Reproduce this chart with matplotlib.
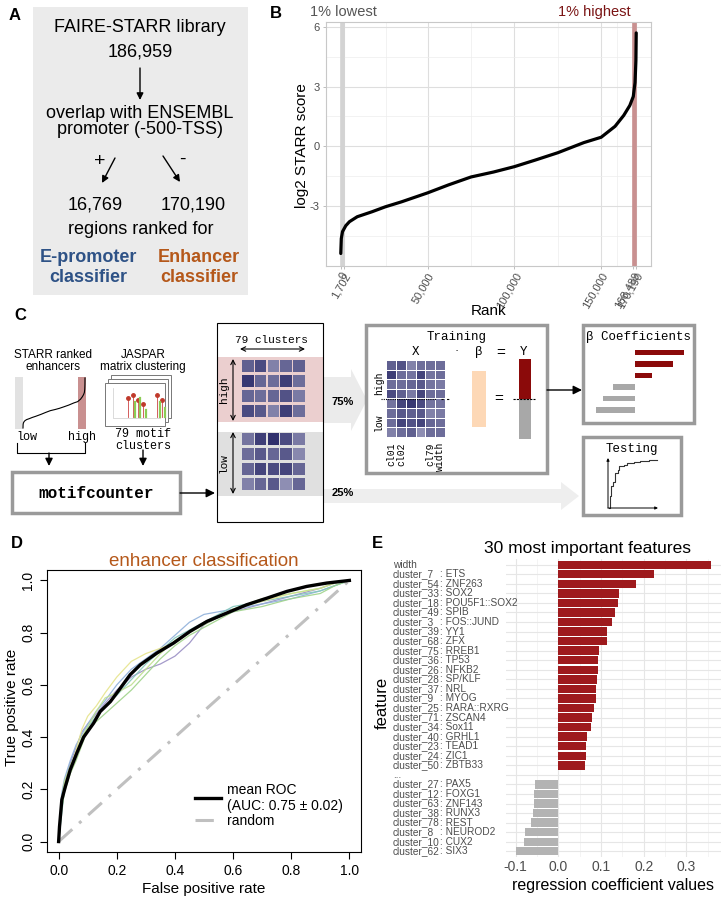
import numpy as np
import matplotlib.pyplot as plt
from matplotlib.patches import Rectangle, FancyArrow
from matplotlib.colors import LinearSegmentedColormap
from matplotlib.lines import Line2D

W, H = 728, 897
plt.rcParams['font.family'] = ['Liberation Sans', 'DejaVu Sans']
plt.rcParams['axes.unicode_minus'] = False
MONO = 'Liberation Mono'
NARROW = ['Liberation Sans Narrow', 'Liberation Sans']
ORANGE = '#b5581a'
BLUE = '#2e5286'
DARKRED = '#9e1a1d'
TXTGREY = '#4d4d4d'

# ---- panel B: ranked STARR scores
rank_pts = [0, 300, 1000, 2900, 5000, 9500, 18000, 25700, 35000, 50000, 62000,
            75000, 88000, 100000, 112000, 125000, 140000, 150000, 158000, 163000,
            166500, 168489, 169500, 170000, 170190]
score_pts = [-5.4, -4.65, -4.3, -4.0, -3.8, -3.55, -3.3, -3.05, -2.8, -2.35, -1.95,
             -1.55, -1.3, -1.03, -0.7, -0.33, 0.18, 0.45, 1.0, 1.55,
             2.05, 2.5, 3.2, 4.3, 5.7]
rank_breaks = [0, 1702, 50000, 100000, 150000, 168489, 170190]

# ---- panel D: ROC curves
mean_fpr = [0, 0.003, 0.011, 0.023, 0.04, 0.063, 0.086, 0.12, 0.143, 0.178, 0.212,
            0.246, 0.281, 0.338, 0.395, 0.452, 0.51, 0.578, 0.647, 0.716, 0.785,
            0.853, 0.922, 1.0]
mean_tpr = [0, 0.057, 0.16, 0.21, 0.275, 0.34, 0.40, 0.453, 0.498, 0.536, 0.587,
            0.639, 0.677, 0.722, 0.76, 0.805, 0.843, 0.875, 0.907, 0.932, 0.958,
            0.977, 0.99, 1.0]
fold_fpr = [0, 0.01, 0.02, 0.04, 0.06, 0.08, 0.1, 0.13, 0.16, 0.2, 0.25, 0.3, 0.35,
            0.4, 0.45, 0.5, 0.55, 0.6, 0.7, 0.8, 0.9, 0.95, 1.0]
fold_tpr = [
    [0, 0.15, 0.22, 0.30, 0.36, 0.42, 0.45, 0.49, 0.53, 0.58, 0.63, 0.66, 0.68, 0.71, 0.76, 0.83, 0.86, 0.88, 0.91, 0.94, 0.97, 0.99, 1.0],
    [0, 0.18, 0.24, 0.31, 0.37, 0.41, 0.45, 0.50, 0.54, 0.60, 0.66, 0.70, 0.74, 0.79, 0.84, 0.87, 0.88, 0.89, 0.91, 0.93, 0.96, 0.98, 1.0],
    [0, 0.10, 0.20, 0.27, 0.33, 0.39, 0.44, 0.48, 0.52, 0.56, 0.62, 0.68, 0.73, 0.78, 0.81, 0.84, 0.87, 0.90, 0.92, 0.94, 0.96, 0.98, 1.0],
    [0, 0.12, 0.19, 0.26, 0.31, 0.37, 0.43, 0.46, 0.49, 0.53, 0.58, 0.64, 0.70, 0.75, 0.79, 0.82, 0.85, 0.88, 0.90, 0.93, 0.95, 0.98, 1.0],
    [0, 0.14, 0.21, 0.28, 0.35, 0.43, 0.48, 0.52, 0.57, 0.63, 0.69, 0.72, 0.74, 0.76, 0.80, 0.84, 0.86, 0.89, 0.92, 0.95, 0.97, 0.99, 1.0],
    [0, 0.16, 0.23, 0.29, 0.34, 0.40, 0.44, 0.50, 0.55, 0.57, 0.60, 0.66, 0.72, 0.77, 0.80, 0.83, 0.86, 0.89, 0.93, 0.95, 0.97, 0.99, 1.0],
]
fold_colors = ['#9a8fc4', '#8fb0da', '#82c6bb', '#9fd38a', '#e6e48c', '#bfe08f']

# ---- panel E: regression coefficients
feat_ids = ['width', 'cluster_7', 'cluster_54', 'cluster_33', 'cluster_18', 'cluster_49',
            'cluster_3', 'cluster_39', 'cluster_68', 'cluster_75', 'cluster_36',
            'cluster_26', 'cluster_28', 'cluster_37', 'cluster_9', 'cluster_25',
            'cluster_71', 'cluster_34', 'cluster_40', 'cluster_23', 'cluster_24',
            'cluster_50', '...', 'cluster_27', 'cluster_12', 'cluster_63', 'cluster_38',
            'cluster_78', 'cluster_8', 'cluster_10', 'cluster_62']
feat_names = ['', 'ETS', 'ZNF263', 'SOX2', 'POU5F1::SOX2', 'SPIB', 'FOS::JUND', 'YY1',
              'ZFX', 'RREB1', 'TP53', 'NFKB2', 'SP/KLF', 'NRL', 'MYOG', 'RARA::RXRG',
              'ZSCAN4', 'Sox11', 'GRHL1', 'TEAD1', 'ZIC1', 'ZBTB33', '', 'PAX5', 'FOXG1',
              'ZNF143', 'RUNX3', 'REST', 'NEUROD2', 'CUX2', 'SIX3']
coef = [0.358, 0.2235, 0.182, 0.141, 0.139, 0.132, 0.125, 0.114, 0.113, 0.095, 0.093,
        0.092, 0.090, 0.089, 0.088, 0.084, 0.079, 0.076, 0.067, 0.065, 0.064, 0.062,
        np.nan, -0.054, -0.056, -0.057, -0.059, -0.0635, -0.079, -0.081, -0.0996]

# ---- panel C schematic values
high_mat = [[0.6, 0.75, 0.35, 0.55, 0.6], [0.9, 0.55, 0.5, 0.85, 0.5],
            [0.55, 0.5, 0.55, 0.7, 0.4], [0.75, 0.65, 0.35, 0.85, 0.5]]
low_mat = [[0.45, 0.85, 0.95, 0.75, 0.4], [0.5, 0.65, 0.55, 0.65, 0.3],
           [0.55, 0.8, 0.75, 0.8, 0.55], [0.35, 0.55, 0.65, 0.25, 0.55]]
train_mat = [[0.6, 0.7, 0.35, 0.5, 0.5, 0.5], [0.85, 0.5, 0.45, 0.8, 0.45, 0.5],
             [0.5, 0.5, 0.55, 0.65, 0.45, 0.4], [0.75, 0.6, 0.4, 0.8, 0.5, 0.5],
             [0.45, 0.8, 0.9, 0.75, 0.45, 0.45], [0.5, 0.65, 0.6, 0.65, 0.35, 0.4],
             [0.5, 0.8, 0.7, 0.8, 0.55, 0.5], [0.35, 0.5, 0.6, 0.25, 0.5, 0.5]]
beta_pos = [49, 38, 17]
beta_neg = [22, 32, 39]
mini_roc_x = [0.02, 0.04, 0.07, 0.11, 0.14, 0.2, 0.22, 0.32, 0.39, 0.53, 0.66, 0.8, 0.83, 0.99]
mini_roc_y = [0.0, 0.24, 0.44, 0.54, 0.71, 0.78, 0.85, 0.87, 0.92, 0.93, 0.95, 0.96, 0.97, 0.97]

fig = plt.figure(figsize=(W / 100, H / 100), dpi=100)


def px_axes(x0, y0, x1, y1):
    return fig.add_axes([x0 / W, 1 - y1 / H, (x1 - x0) / W, (y1 - y0) / H])


# overlay in pixel coordinates for the schematic parts
ov = px_axes(0, 0, W, H)
ov.set_xlim(0, W)
ov.set_ylim(H, 0)
ov.axis('off')


def arrow(x0, y0, x1, y1, style='-|>', lw=1.0, ms=10):
    ov.annotate('', xy=(x1, y1), xytext=(x0, y0),
                arrowprops=dict(arrowstyle=style, color='black', lw=lw,
                                mutation_scale=ms, shrinkA=0, shrinkB=0))


def label(x, y, s):
    ov.text(x, y, s, fontsize=12, fontweight='bold', ha='center', va='center')


# ================= A
label(15, 15, 'A')
ov.add_patch(Rectangle((33, 7), 215, 288, fc='#ebebeb', ec='none'))
fsA = 13
ov.text(140, 27, 'FAIRE-STARR library', fontsize=fsA, ha='center', va='center')
ov.text(140, 52, '186,959', fontsize=fsA, ha='center', va='center')
arrow(140, 68, 140, 100)
ov.text(140, 113, 'overlap with ENSEMBL', fontsize=fsA, ha='center', va='center')
ov.text(140, 129, 'promoter (-500-TSS)', fontsize=fsA, ha='center', va='center')
ov.text(100, 161, '+', fontsize=14, ha='center', va='center')
ov.text(182, 159, '-', fontsize=14, ha='center', va='center')
arrow(115, 158, 102, 183)
arrow(163, 156, 180, 182)
ov.text(95, 205, '16,769', fontsize=fsA, ha='center', va='center')
ov.text(193, 205, '170,190', fontsize=fsA, ha='center', va='center')
ov.text(141, 230, 'regions ranked for', fontsize=fsA, ha='center', va='center')
ov.text(88, 257, 'E-promoter', fontsize=fsA, fontweight='bold', color=BLUE, ha='center', va='center')
ov.text(88, 277, 'classifier', fontsize=fsA, fontweight='bold', color=BLUE, ha='center', va='center')
ov.text(199, 257, 'Enhancer', fontsize=fsA, fontweight='bold', color=ORANGE, ha='center', va='center')
ov.text(199, 277, 'classifier', fontsize=fsA, fontweight='bold', color=ORANGE, ha='center', va='center')

# ================= B
label(276, 14, 'B')
axB = px_axes(326, 22, 651, 266)
xmin, xmax = 0, rank_breaks[-1]
pad = 0.05 * (xmax - xmin)
axB.set_xlim(xmin - pad, xmax + pad)
axB.set_ylim(-6.03, 6.25)
axB.axvspan(0, 1702, fc='#d3d3d3', ec='#d3d3d3', lw=1.2, zorder=1)
axB.axvspan(168489, 170190, fc='#c99090', ec='#c99090', lw=1.2, zorder=1)
axB.plot(rank_pts, score_pts, color='black', lw=2.3, zorder=3, solid_capstyle='round')
axB.set_xticks(rank_breaks)
axB.set_xticklabels([f'{b:,}' for b in rank_breaks], rotation=60, ha='right',
                    rotation_mode='anchor', fontsize=8, color=TXTGREY)
minor_x = [(a + b) / 2 for a, b in zip(rank_breaks[:-1], rank_breaks[1:])]
axB.set_xticks(minor_x, minor=True)
axB.set_yticks([-3, 0, 3, 6])
axB.set_yticks([-4.5, -1.5, 1.5, 4.5], minor=True)
axB.tick_params(axis='y', labelsize=8, labelcolor=TXTGREY, pad=2)
axB.tick_params(axis='x', pad=1)
axB.tick_params(which='both', color='#b3b3b3', length=2.5, width=0.6)
axB.tick_params(which='minor', length=0)
axB.grid(which='major', color='#dedede', lw=0.8)
axB.grid(which='minor', color='#ededed', lw=0.5)
axB.set_axisbelow(True)
for s in axB.spines.values():
    s.set_color('#c8c8c8')
    s.set_linewidth(0.8)
ov.text(302, 146, 'log2 STARR score', fontsize=11, rotation=90, ha='center', va='center')
ov.text(489, 311, 'Rank', fontsize=11, ha='center', va='center')
ov.text(343, 12, '1% lowest', fontsize=10.5, color='#555555', ha='center', va='center')
ov.text(594, 12, '1% highest', fontsize=10.5, color='#7a1414', ha='center', va='center')
ov.text(485, 43, 'ranked putative enhancers', fontsize=13.5, color=ORANGE, ha='center', va='center')

# ================= C
label(20, 316, 'C')
ov.text(53, 361, 'STARR ranked\nenhancers', fontsize=8.5, ha='center', va='center', linespacing=1.0)
ov.add_patch(Rectangle((15, 377), 8, 52, fc='#e2e2e2', ec='none'))
ov.add_patch(Rectangle((78, 377), 8, 52, fc='#c99090', ec='none'))
r = np.array(rank_pts, dtype=float)
s = np.array(score_pts)
ov.plot(23 + r / r.max() * (85 - 23), 428 - (s - s.min()) / (s.max() - s.min()) * (428 - 378),
        color='black', lw=0.8)
ov.text(27, 437, 'low', fontsize=8.5, family=MONO, ha='center', va='center')
ov.text(82, 437, 'high', fontsize=8.5, family=MONO, ha='center', va='center')
ov.plot([17, 17, 85, 85], [443, 453, 453, 443], color='black', lw=0.8)
arrow(49, 453, 49, 466, ms=11)

ov.text(143, 361, 'JASPAR\nmatrix clustering', fontsize=8.5, ha='center', va='center', linespacing=1.0)
for dx, dy in [(6, -8), (3, -4), (0, 0)]:
    ov.add_patch(Rectangle((105 + dx, 383 + dy), 60, 43, fc='white', ec='#777777', lw=0.7))
ov.plot([113, 113, 160], [388, 418, 418], color='#cccccc', lw=0.5)
for lx, ly in zip([128, 133, 138, 143, 157, 162], [398, 395, 400, 404, 395, 400]):
    ov.plot([lx, lx], [ly, 417], color='#cc4444', lw=0.6)
    ov.plot(lx, ly, 'o', color='#c0392b', ms=2.5)
for lx, ly in zip([135, 140, 146, 160, 165], [402, 398, 410, 402, 408]):
    ov.plot([lx, lx], [ly, 417], color='#8ccc55', lw=1.6)
ov.text(143, 440, '79 motif\nclusters', fontsize=8.5, family=MONO, ha='center', va='center', linespacing=1.0)
arrow(143, 450, 143, 466, ms=11)

ov.add_patch(Rectangle((12, 472), 168, 41, fc='white', ec='#9a9a9a', lw=2.5))
ov.text(96, 493, 'motifcounter', fontsize=11.5, family=MONO, fontweight='bold', ha='center', va='center')
arrow(180, 493, 215, 493, ms=13)

# fat grey arrows
ov.add_patch(FancyArrow(323, 400, 28, 0, width=46, head_width=62, head_length=16,
                        fc='#ebebeb', ec='none', length_includes_head=False))
ov.add_patch(FancyArrow(323, 496, 238, 0, width=14, head_width=28, head_length=18,
                        fc='#eeeeee', ec='none'))
ov.text(343, 402, '75%', fontsize=8, fontweight='bold', ha='center', va='center')
ov.text(343, 493, '25%', fontsize=8, fontweight='bold', ha='center', va='center')

# matrix box
cmap = LinearSegmentedColormap.from_list('mat', ['#b0b0cc', '#2a2a68'])
ov.add_patch(Rectangle((217, 357), 106, 65, fc='#ebcfcf', ec='none'))
ov.add_patch(Rectangle((217, 432), 106, 64, fc='#e0e0e0', ec='none'))
ov.add_patch(Rectangle((217, 323), 106, 199, fc='none', ec='black', lw=0.8))
for mat, ytop in [(high_mat, 360), (low_mat, 433)]:
    for i, row in enumerate(mat):
        for j, v in enumerate(row):
            ov.add_patch(Rectangle((242 + j * 12.8, ytop + i * 15), 11.5, 12.3,
                                   fc=cmap(v), ec='none'))
ov.text(271, 340, '79 clusters', fontsize=8, family=MONO, ha='center', va='center')
arrow(240, 349, 305, 349, style='<->', lw=0.8, ms=8)
arrow(233, 359, 233, 421, style='<->', lw=0.8, ms=8)
arrow(233, 432, 233, 494, style='<->', lw=0.8, ms=8)
ov.text(224, 390, 'high', fontsize=8, family=MONO, rotation=90, ha='center', va='center')
ov.text(224, 463, 'low', fontsize=8, family=MONO, rotation=90, ha='center', va='center')

# training box
ov.add_patch(Rectangle((366, 325), 181, 148, fc='white', ec='#9a9a9a', lw=2.5))
ov.text(457, 337, 'Training', fontsize=9, family=MONO, ha='center', va='center')
ov.text(416, 352, 'X', fontsize=9, family=MONO, ha='center', va='center')
ov.text(457, 351, '·', fontsize=9, ha='center', va='center')
ov.text(479, 352, 'β', fontsize=9, family=MONO, ha='center', va='center')
ov.text(501, 353, '=', fontsize=11, ha='center', va='center')
ov.text(524, 352, 'Y', fontsize=9, family=MONO, ha='center', va='center')
for i, row in enumerate(train_mat):
    for j, v in enumerate(row):
        ov.add_patch(Rectangle((387 + j * 9.85, 361 + i * 9.6), 8.9, 8.7, fc=cmap(v), ec='none'))
ov.plot([381, 436], [399, 399], color='black', lw=0.8, ls=(0, (1, 1)))
ov.plot([441, 452], [399, 399], color='black', lw=0.8, ls=(0, (2, 3)))
ov.text(379, 383, 'high', fontsize=7, family=MONO, rotation=90, ha='center', va='center')
ov.text(379, 422, 'low', fontsize=7, family=MONO, rotation=90, ha='center', va='center')
for tx, tl in zip([391, 401, 430, 440], ['cl01', 'cl02', 'cl79', 'width']):
    ov.text(tx, 442, tl, fontsize=7, family=MONO, rotation=90, ha='center', va='top')
ov.add_patch(Rectangle((472, 371), 14, 56, fc='#fdd8b6', ec='none'))
ov.text(499, 399, '=', fontsize=11, ha='center', va='center')
ov.add_patch(Rectangle((519, 359), 12, 40, fc='#8b0a0a', ec='none'))
ov.add_patch(Rectangle((519, 399), 12, 40, fc='#a8a8a8', ec='none'))
ov.plot([513, 535], [399, 399], color='black', lw=0.8, ls=(0, (2, 1)))
arrow(547, 390, 582, 390, ms=13)

# beta box
ov.add_patch(Rectangle((583, 325), 111, 98, fc='white', ec='#9a9a9a', lw=2.5))
ov.text(638, 337, 'β Coefficients', fontsize=9, family=MONO, ha='center', va='center')
for k, w in enumerate(beta_pos):
    ov.add_patch(Rectangle((635, 350 + k * 11.5), w, 5.5, fc='#8b0a0a', ec='none'))
for k, w in enumerate(beta_neg):
    ov.add_patch(Rectangle((635 - w, 384.5 + k * 11.5), w, 5.5, fc='#a8a8a8', ec='none'))

# testing box
ov.add_patch(Rectangle((583, 437), 98, 78, fc='white', ec='#9a9a9a', lw=2.5))
ov.text(632, 449, 'Testing', fontsize=9, family=MONO, ha='center', va='center')
arrow(608, 508, 608, 458, style='-|>', lw=0.7, ms=4)
arrow(608, 508, 658, 508, style='-|>', lw=0.7, ms=4)
mx = 608 + np.array(mini_roc_x) * 49
my = 508 - np.array(mini_roc_y) * 49
ov.plot(mx, my, color='#333333', lw=0.8, drawstyle='steps-post')

# ================= D
label(17, 543, 'D')
axD = px_axes(47, 570, 361, 852)
for t, c in zip(fold_tpr, fold_colors):
    axD.plot(fold_fpr, t, color=c, lw=0.9, alpha=0.9)
axD.plot([0, 1], [0, 1], color='#c0c0c0', lw=2.2, ls=(0, (6, 3, 1, 3)))
axD.plot(mean_fpr, mean_tpr, color='black', lw=2.4)
axD.set_xlim(-0.04, 1.04)
axD.set_ylim(-0.04, 1.04)
ticks = [0, 0.2, 0.4, 0.6, 0.8, 1.0]
axD.set_xticks(ticks)
axD.set_xticklabels([f'{t:.1f}' for t in ticks])
axD.set_yticks(ticks)
axD.set_yticklabels([f'{t:.1f}' for t in ticks], rotation=90, va='center')
axD.tick_params(direction='out', length=5, width=0.8, labelsize=10)
for sp in axD.spines.values():
    sp.set_linewidth(0.8)
axD.set_xlabel('False positive rate', fontsize=11, labelpad=3)
ov.text(12, 707, 'True positive rate', fontsize=11, rotation=90, ha='center', va='center')
h = [Line2D([], [], color='black', lw=2.4), Line2D([], [], color='#c0c0c0', lw=2.2, ls=(0, (6, 3, 1, 3)))]
axD.legend(h, ['mean ROC\n(AUC: 0.75 ± 0.02)', 'random'], loc='lower right',
           bbox_to_anchor=(0.96, 0.065), frameon=False, fontsize=10, handlelength=1.9,
           labelspacing=0.1, borderaxespad=0, handletextpad=0.4)
axD.set_title('enhancer classification', fontsize=13.5, color=ORANGE, pad=3)

# ================= E
label(377, 543, 'E')
axE = px_axes(506, 559, 721, 857)
n = len(coef)
ypos = np.arange(n)[::-1]
vals = np.array(coef, dtype=float)
cols = [DARKRED if v > 0 else '#b3b3b3' for v in np.nan_to_num(vals)]
axE.barh(ypos, np.nan_to_num(vals), height=0.88, color=cols, zorder=2)
lo, hi = np.nanmin(vals), np.nanmax(vals)
pad = 0.05 * (hi - lo)
axE.set_xlim(lo - pad, hi + pad)
axE.set_ylim(-0.6, n - 0.4)
axE.set_xticks([-0.1, 0, 0.1, 0.2, 0.3])
axE.set_xticklabels(['-0.1', '0.0', '0.1', '0.2', '0.3'])
axE.set_xticks([-0.05, 0.05, 0.15, 0.25, 0.35], minor=True)
axE.set_yticks(ypos)
axE.set_yticklabels([])
axE.tick_params(which='both', length=0)
axE.tick_params(axis='x', labelsize=10, labelcolor=TXTGREY, pad=2)
axE.grid(which='major', color='#e6e6e6', lw=0.8)
axE.grid(which='minor', axis='x', color='#f0f0f0', lw=0.5)
axE.set_axisbelow(True)
for sp in axE.spines.values():
    sp.set_visible(False)
axE.set_xlabel('regression coefficient values', fontsize=11.5, labelpad=3)
tr = axE.get_yaxis_transform()
x_id = (393 - 506) / (721 - 506)
x_nm = (440 - 506) / (721 - 506)
for yp, fid, nm in zip(ypos, feat_ids, feat_names):
    axE.text(x_id, yp, fid, transform=tr, fontsize=7.3, family=NARROW, color=TXTGREY,
             ha='left', va='center', clip_on=False)
    if nm:
        axE.text(x_nm, yp, ': ' + nm, transform=tr, fontsize=7.3, family=NARROW, color=TXTGREY,
                 ha='left', va='center', clip_on=False)
ov.text(382, 703, 'feature', fontsize=12, rotation=90, ha='center', va='center')
ov.text(587, 548, '30 most important features', fontsize=12.5, ha='center', va='center')

fig.savefig('out.png', dpi=100)
